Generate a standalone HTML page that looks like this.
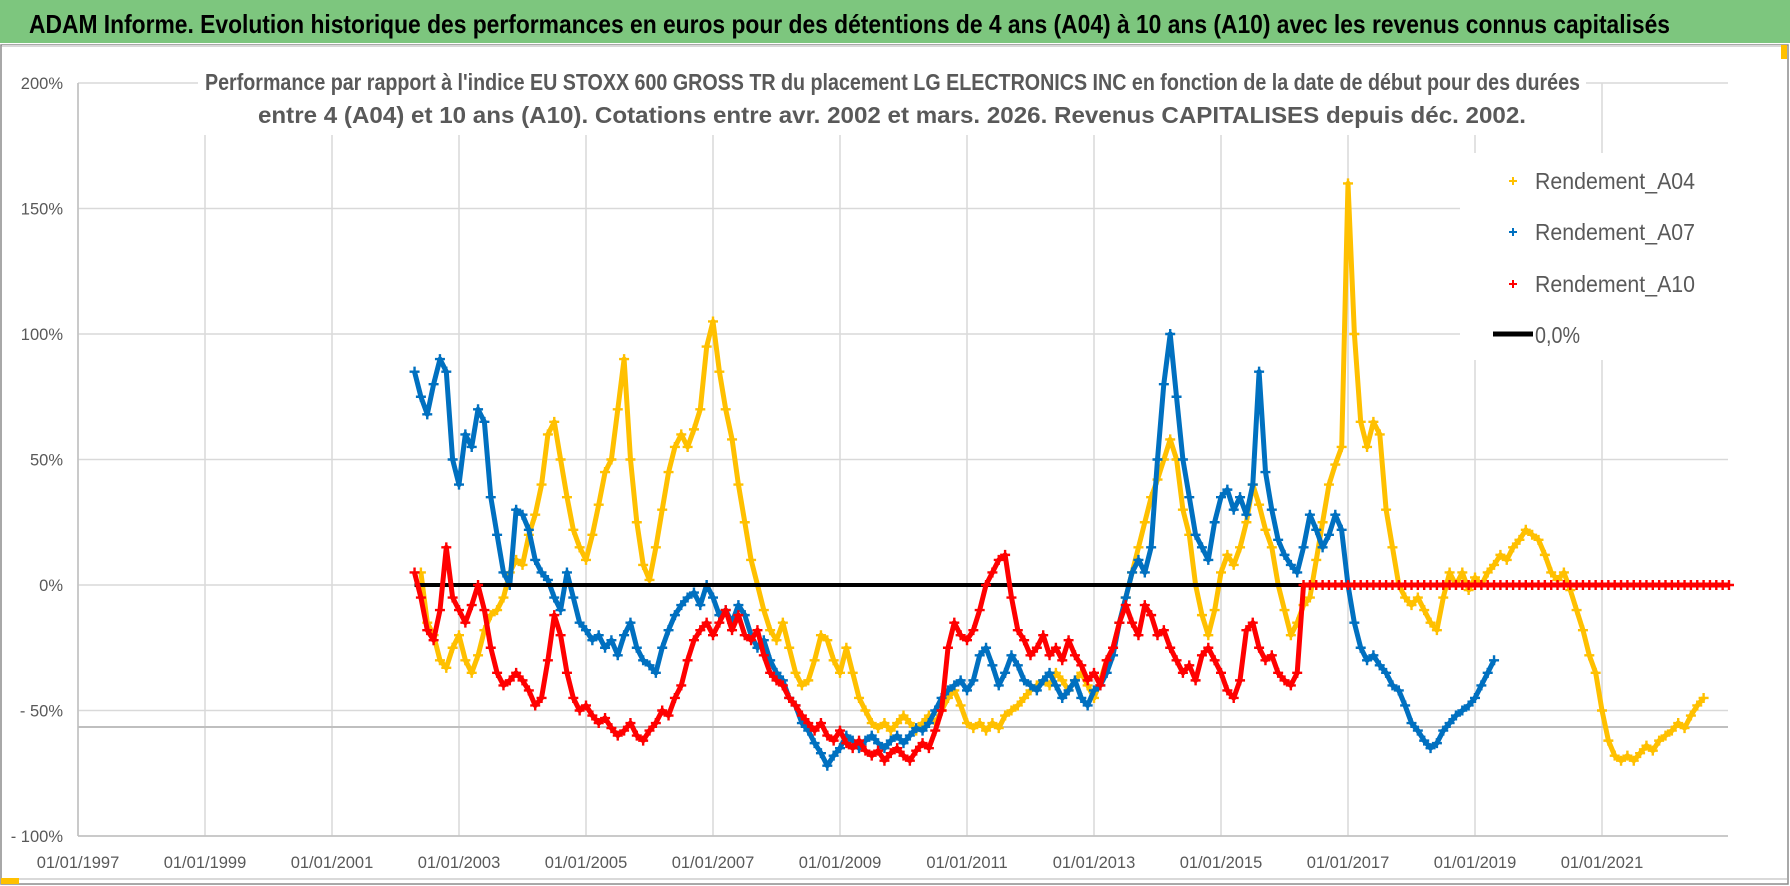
<!DOCTYPE html>
<html><head><meta charset="utf-8">
<style>
html,body{margin:0;padding:0;background:#fff;}
svg{display:block;font-family:"Liberation Sans",sans-serif;}
</style></head>
<body>
<svg id="chart" width="1790" height="886" viewBox="0 0 1790 886" xmlns="http://www.w3.org/2000/svg">
  <rect x="0" y="0" width="1790" height="886" fill="#fff"/>
  <rect x="0" y="0" width="1790" height="43" fill="#7dc67e"/>
  <text x="29" y="33" font-size="26" font-weight="bold" fill="#000" textLength="1641" lengthAdjust="spacingAndGlyphs">ADAM Informe. Evolution historique des performances en euros pour des détentions de 4 ans (A04) à 10 ans (A10) avec les revenus connus capitalisés</text>
  <rect x="1" y="45" width="1787" height="839" fill="none" stroke="#8c8c8c" stroke-width="1.5"/>
  <line x1="2" y1="46" x2="1787" y2="46" stroke="#d9d9d9" stroke-width="2"/>
  <line x1="2" y1="879" x2="1787" y2="879" stroke="#d9d9d9" stroke-width="2"/>
  <rect x="1" y="878" width="18" height="6" fill="#ffc000"/>
  <rect x="1781" y="45" width="6" height="14" fill="#ffc000"/>
  <g id="grid"></g>
  <line x1="78" y1="727" x2="1728" y2="727" stroke="#bfbfbf" stroke-width="2"/>
  <g id="axes"></g>
  <g id="series"></g>
  <rect x="198" y="60" width="1388" height="75" fill="#fff"/>
  <text x="205" y="90" font-size="23" font-weight="bold" fill="#595959" textLength="1375" lengthAdjust="spacingAndGlyphs">Performance par rapport à l'indice EU STOXX 600 GROSS TR  du placement LG ELECTRONICS INC en fonction de la date de début pour des durées</text>
  <text x="258" y="123" font-size="23" font-weight="bold" fill="#595959" textLength="1268" lengthAdjust="spacingAndGlyphs">entre 4 (A04) et 10 ans (A10). Cotations entre avr. 2002 et mars. 2026. Revenus CAPITALISES depuis déc. 2002.</text>
  <g>
    <rect x="1460" y="153" width="270" height="207" fill="#fff"/>
    <g>
      <path d="M1509 181h8M1513 177v8" stroke="#ffc000" stroke-width="2"/>
      <text x="1535" y="189" font-size="23" fill="#595959" textLength="160" lengthAdjust="spacingAndGlyphs">Rendement_A04</text>
    </g>
    <g>
      <path d="M1509 232h8M1513 228v8" stroke="#0070c0" stroke-width="2"/>
      <text x="1535" y="240" font-size="23" fill="#595959" textLength="160" lengthAdjust="spacingAndGlyphs">Rendement_A07</text>
    </g>
    <g>
      <path d="M1509 284h8M1513 280v8" stroke="#ff0000" stroke-width="2"/>
      <text x="1535" y="292" font-size="23" fill="#595959" textLength="160" lengthAdjust="spacingAndGlyphs">Rendement_A10</text>
    </g>
    <g>
      <line x1="1493" y1="334" x2="1533" y2="334" stroke="#000" stroke-width="5"/>
      <text x="1535" y="343" font-size="23" fill="#595959" textLength="45" lengthAdjust="spacingAndGlyphs">0,0%</text>
    </g>
  </g>
</svg>
<script>
const xTickLabels = ["01/01/1997","01/01/1999","01/01/2001","01/01/2003","01/01/2005","01/01/2007","01/01/2009","01/01/2011","01/01/2013","01/01/2015","01/01/2017","01/01/2019","01/01/2021"];
const xTickYears = [1997,1999,2001,2003,2005,2007,2009,2011,2013,2015,2017,2019,2021];
const yTickValues = [200,150,100,50,0,-50,-100];
const yTickLabels = ["200%","150%","100%","50%","0%","- 50%","- 100%"];
const stepYears = 0.1;
const a04Start = 2002.4;
const a04Values = [5,-15,-20,-30,-33,-25,-20,-30,-35,-28,-18,-12,-10,-5,5,10,8,20,28,40,60,65,50,35,22,15,10,20,32,45,50,70,90,50,25,8,2,15,30,45,55,60,55,62,70,95,105,85,70,58,40,25,10,0,-10,-18,-22,-15,-25,-35,-40,-38,-30,-20,-22,-30,-35,-25,-35,-45,-50,-55,-57,-55,-58,-55,-52,-55,-58,-55,-52,-55,-50,-45,-42,-48,-55,-57,-55,-58,-55,-57,-52,-50,-48,-45,-42,-40,-38,-40,-35,-38,-42,-38,-35,-40,-45,-38,-30,-25,-15,-5,5,15,25,35,42,50,58,50,30,20,0,-12,-20,-10,5,12,8,15,25,40,32,22,15,0,-10,-20,-15,-8,-5,10,25,40,48,55,160,100,65,55,65,60,30,15,0,-5,-8,-5,-10,-15,-18,-5,5,0,5,-2,3,0,5,8,12,10,15,18,22,20,18,12,5,2,5,-2,-10,-18,-28,-35,-50,-62,-68,-70,-68,-70,-67,-64,-66,-62,-60,-58,-55,-57,-52,-48,-45];
const a07Start = 2002.3;
const a07Values = [85,75,68,80,90,85,50,40,60,55,70,65,35,20,5,0,30,28,22,10,5,2,-5,-10,5,-5,-15,-18,-22,-20,-25,-22,-28,-20,-15,-25,-30,-32,-35,-25,-18,-12,-8,-5,-3,-8,0,-5,-12,-10,-15,-8,-12,-20,-25,-22,-30,-35,-38,-45,-48,-55,-58,-63,-67,-72,-68,-65,-60,-62,-65,-62,-60,-63,-65,-62,-60,-63,-60,-57,-58,-55,-50,-45,-42,-40,-38,-42,-38,-28,-25,-32,-40,-35,-28,-32,-38,-40,-42,-38,-35,-40,-45,-42,-38,-45,-48,-42,-40,-35,-28,-15,-5,5,10,5,15,50,80,100,75,50,35,20,15,10,25,35,38,30,35,28,40,85,45,30,18,12,8,5,15,28,22,15,20,28,22,0,-15,-25,-30,-28,-32,-35,-40,-42,-48,-55,-58,-62,-65,-63,-58,-55,-52,-50,-48,-45,-40,-35,-30];
const a10Start = 2002.3;
const a10Values = [5,-5,-18,-22,-10,15,-5,-10,-15,-8,0,-10,-25,-35,-40,-38,-35,-38,-42,-48,-45,-30,-12,-20,-35,-45,-50,-48,-52,-55,-53,-57,-60,-58,-55,-60,-62,-58,-55,-50,-52,-45,-40,-30,-22,-18,-15,-20,-15,-10,-18,-12,-20,-22,-18,-28,-35,-38,-40,-45,-48,-52,-55,-58,-55,-60,-62,-58,-63,-65,-62,-66,-68,-66,-70,-67,-65,-68,-70,-66,-63,-65,-58,-50,-25,-15,-20,-22,-18,-10,0,5,10,12,-5,-18,-22,-28,-25,-20,-28,-25,-30,-22,-28,-32,-38,-35,-40,-30,-25,-15,-8,-15,-20,-8,-12,-20,-18,-25,-30,-35,-32,-38,-28,-25,-30,-35,-42,-45,-38,-18,-15,-25,-30,-28,-35,-38,-40,-35,0,0,0,0,0,0,0,0,0,0,0,0,0,0,0,0,0,0,0,0,0,0,0,0,0,0,0,0,0,0,0,0,0,0,0,0,0,0,0,0,0,0,0,0,0,0,0,0,0,0,0,0,0,0,0,0,0,0,0,0,0,0,0,0,0,0,0,0];
const zeroLineYears = [2002.3, 2023.0];
const zeroLineValues = [0, 0];

const NS = "http://www.w3.org/2000/svg";
const X0 = 78, YEAR0 = 1997, PXY = 63.5, XMAX = 1728;
const Y0 = 585, PXP = 2.51;
function xScale(yr){ return X0 + (yr - YEAR0) * PXY; }
function yScale(v){ return Y0 - v * PXP; }
function mk(tag, attrs, parent){ const e = document.createElementNS(NS, tag); for (const k in attrs) e.setAttribute(k, attrs[k]); parent.appendChild(e); return e; }

const grid = document.getElementById('grid');
const axes = document.getElementById('axes');
yTickValues.forEach(function(v, i){
  const y = yScale(v);
  const gl = mk('line', {x1: X0, y1: y, x2: XMAX, y2: y, stroke: '#d9d9d9', 'stroke-width': 1.5}, grid);
  
  
  const t = mk('text', {x: 63, y: y + 6, 'text-anchor': 'end', 'font-size': 16.5, fill: '#595959'}, axes);
  t.textContent = yTickLabels[i];
  
  
});
xTickYears.forEach(function(yr, i){
  const x = xScale(yr);
  const gl = mk('line', {x1: x, y1: yScale(200), x2: x, y2: yScale(-100), stroke: '#d9d9d9', 'stroke-width': 1.5}, grid);
  
  
  const t = mk('text', {x: x, y: 868, 'text-anchor': 'middle', 'font-size': 16.5, fill: '#595959'}, axes);
  t.textContent = xTickLabels[i];
  
  
});
const la = mk('line', {x1: X0, y1: yScale(200), x2: X0, y2: yScale(-100), stroke: '#bfbfbf', 'stroke-width': 1.5}, axes);


const lb = mk('line', {x1: X0, y1: yScale(-100), x2: XMAX, y2: yScale(-100), stroke: '#bfbfbf', 'stroke-width': 1.5}, axes);



const seriesLayer = document.getElementById('series');
function drawSeries(name, start, values, color){
  const g = mk('g', {}, seriesLayer);
  
  
  const pts = values.map(function(v, i){ return xScale(start + i * stepYears).toFixed(1) + ',' + yScale(v).toFixed(1); });
  const pl = mk('polyline', {points: pts.join(' '), fill: 'none', stroke: color, 'stroke-width': 5, 'stroke-linejoin': 'round'}, g);
  
  
  values.forEach(function(v, i){
    const x = xScale(start + i * stepYears), y = yScale(v);
    const p = mk('path', {d: 'M' + (x - 5) + ' ' + y + 'h10M' + x + ' ' + (y - 5) + 'v10', stroke: color, 'stroke-width': 2.4}, g);
    
    
  });
}
drawSeries('series-a04', a04Start, a04Values, '#ffc000');
drawSeries('series-a07', a07Start, a07Values, '#0070c0');
const zl = mk('line', {x1: xScale(zeroLineYears[0]), y1: yScale(zeroLineValues[0]), x2: xScale(zeroLineYears[1]), y2: yScale(zeroLineValues[1]), stroke: '#000', 'stroke-width': 4}, seriesLayer);


drawSeries('series-a10', a10Start, a10Values, '#ff0000');
</script>
</body></html>
